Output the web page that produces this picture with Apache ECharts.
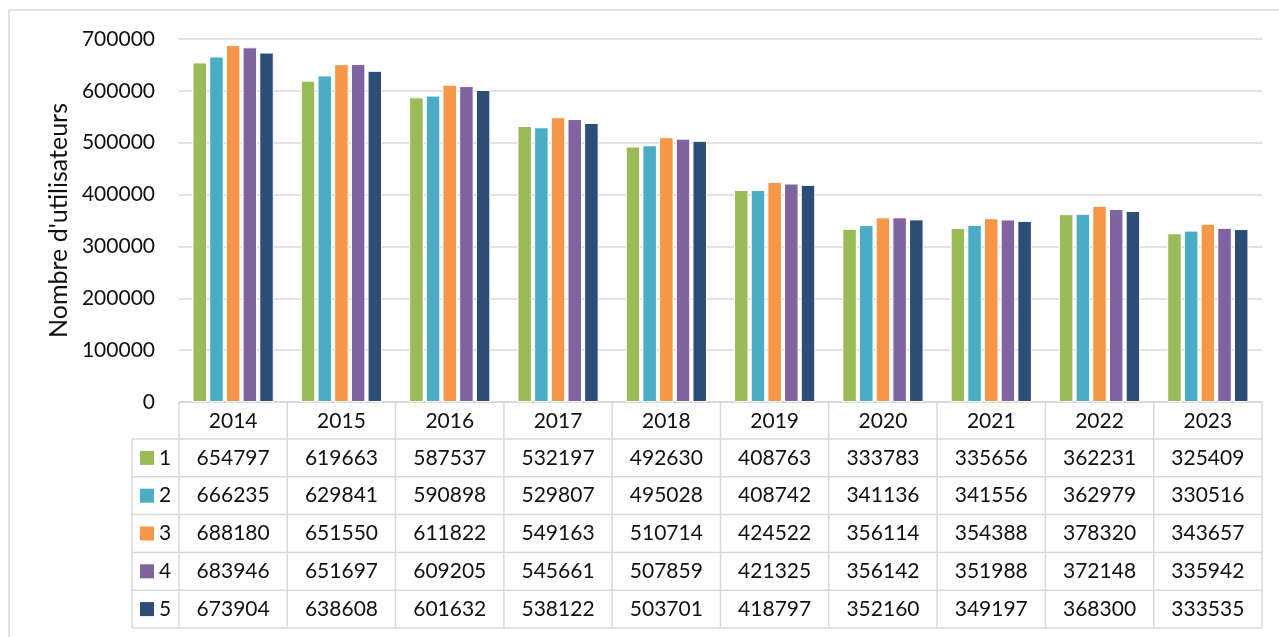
<!DOCTYPE html>
<html>
<head>
<meta charset="utf-8">
<script src="https://cdn.jsdelivr.net/npm/echarts@6/dist/echarts.min.js"></script>
<style>
  html, body { margin: 0; padding: 0; background: #fff; }
  #main { width: 1279px; height: 637px; }
</style>
</head>
<body>
<div id="main"></div>
<script>
// données
var years = ['2014', '2015', '2016', '2017', '2018', '2019', '2020', '2021', '2022', '2023'];
var serie1 = [654797, 619663, 587537, 532197, 492630, 408763, 333783, 335656, 362231, 325409];
var serie2 = [666235, 629841, 590898, 529807, 495028, 408742, 341136, 341556, 362979, 330516];
var serie3 = [688180, 651550, 611822, 549163, 510714, 424522, 356114, 354388, 378320, 343657];
var serie4 = [683946, 651697, 609205, 545661, 507859, 421325, 356142, 351988, 372148, 335942];
var serie5 = [673904, 638608, 601632, 538122, 503701, 418797, 352160, 349197, 368300, 333535];
var seriesNames = ['1', '2', '3', '4', '5'];
var yTicks = [0, 100000, 200000, 300000, 400000, 500000, 600000, 700000];

var allSeries = [serie1, serie2, serie3, serie4, serie5];
var colors = ['#9BBB59', '#4BACC6', '#F79646', '#8064A2', '#2C4D75'];
var font = 'Lato, "Noto Sans", sans-serif';
var lineCol = '#D9D9D9';

var chartDom = document.getElementById('main');
var myChart = echarts.init(chartDom);

// mise en page
var gLeft = 179, gRight = 1262, gTop = 39, gBottom = 402;
var tabLeft = 132, rowH = 37.8;

var option = {
  backgroundColor: '#fff',
  animation: false,
  textStyle: { fontFamily: font },
  grid: { left: gLeft, right: 1279 - gRight, top: gTop, bottom: 637 - gBottom },
  xAxis: {
    type: 'category',
    data: years,
    axisLine: { show: true, lineStyle: { color: lineCol, width: 1.5 } },
    axisTick: { show: false },
    axisLabel: { color: '#111', fontSize: 21, fontFamily: font, margin: 9 }
  },
  yAxis: {
    type: 'value',
    min: yTicks[0],
    max: yTicks[yTicks.length - 1],
    interval: yTicks[1] - yTicks[0],
    name: "Nombre d'utilisateurs",
    nameLocation: 'middle',
    nameGap: 105,
    nameTextStyle: { color: '#111', fontSize: 25, fontFamily: font },
    axisLine: { show: false },
    axisTick: { show: false },
    axisLabel: { color: '#111', fontSize: 21, fontFamily: font, margin: 24,
      formatter: function (v) { return String(v); } },
    splitLine: { lineStyle: { color: lineCol, width: 1.5 } }
  },
  series: allSeries.map(function (d, i) {
    return {
      name: seriesNames[i],
      type: 'bar',
      data: d,
      barGap: '15%',
      barCategoryGap: '25%',
      itemStyle: { color: colors[i], borderColor: '#fff', borderWidth: 1 }
    };
  })
};

option && myChart.setOption(option);

// tableau de données sous le graphique
var elements = [];
// cadre extérieur
elements.push({ type: 'rect', shape: { x: 9, y: 10, width: 1300, height: 700 },
  style: { fill: 'none', stroke: lineCol, lineWidth: 1.5 }, silent: true, z: 0 });

var xs = [];
for (var k = 0; k < years.length; k++) {
  xs.push(myChart.convertToPixel({ xAxisIndex: 0 }, years[k]));
}
var catW = (gRight - gLeft) / years.length;
var tabTop = gBottom + 37;
var tabBottom = tabTop + rowH * seriesNames.length;

// lignes horizontales
for (var r = 0; r <= seriesNames.length; r++) {
  var y = tabTop + r * rowH;
  elements.push({ type: 'line', shape: { x1: tabLeft, y1: y, x2: gRight, y2: y },
    style: { stroke: lineCol, lineWidth: 1.5 }, silent: true });
}
// lignes verticales
elements.push({ type: 'line', shape: { x1: tabLeft, y1: tabTop, x2: tabLeft, y2: tabBottom },
  style: { stroke: lineCol, lineWidth: 1.5 }, silent: true });
for (var c = 0; c <= years.length; c++) {
  var x = gLeft + c * catW;
  elements.push({ type: 'line', shape: { x1: x, y1: gBottom, x2: x, y2: tabBottom },
    style: { stroke: lineCol, lineWidth: 1.5 }, silent: true });
}
elements.push({ type: 'line', shape: { x1: gLeft, y1: gBottom, x2: gRight, y2: gBottom },
  style: { stroke: lineCol, lineWidth: 1.5 }, silent: true });

// légende + valeurs
for (var s = 0; s < allSeries.length; s++) {
  var cy = tabTop + rowH * (s + 0.5);
  elements.push({ type: 'rect', shape: { x: 140, y: cy - 7, width: 14, height: 14 },
    style: { fill: colors[s] }, silent: true });
  elements.push({ type: 'text', x: 159, y: cy,
    style: { text: seriesNames[s], fill: '#111', font: '21px ' + font, verticalAlign: 'middle', align: 'left' },
    silent: true });
  for (var j = 0; j < years.length; j++) {
    elements.push({ type: 'text', x: xs[j], y: cy,
      style: { text: String(allSeries[s][j]), fill: '#111', font: '21px ' + font,
        align: 'center', verticalAlign: 'middle' },
      silent: true });
  }
}

myChart.setOption({ graphic: { elements: elements } });
</script>
</body>
</html>
